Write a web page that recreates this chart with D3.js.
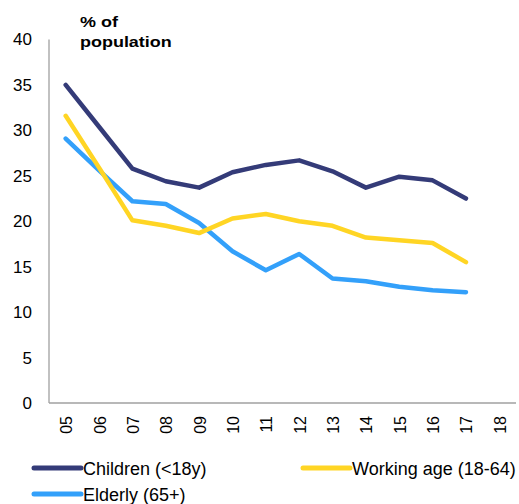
<!DOCTYPE html>
<html>
<head>
<meta charset="utf-8">
<script src="https://cdn.jsdelivr.net/npm/d3@7"></script>
<style>
  html, body { margin: 0; padding: 0; background: #fff; }
  svg { display: block; }
  text { font-family: "Liberation Sans", Arial, sans-serif; fill: #000; }
</style>
</head>
<body>
<script>
const years = ["05","06","07","08","09","10","11","12","13","14","15","16","17","18"];
const children = [35.0, 30.4, 25.8, 24.4, 23.7, 25.4, 26.2, 26.7, 25.5, 23.7, 24.9, 24.5, 22.5];
const workingAge = [31.6, 25.9, 20.1, 19.5, 18.7, 20.3, 20.8, 20.0, 19.5, 18.2, 17.9, 17.6, 15.5];
const elderly = [29.1, 25.6, 22.2, 21.9, 19.8, 16.7, 14.6, 16.4, 13.7, 13.4, 12.8, 12.4, 12.2];
const yTicks = [0, 5, 10, 15, 20, 25, 30, 35, 40];
const seriesNames = ["Children (<18y)", "Working age (18-64)", "Elderly (65+)"];
const seriesColors = ["#343b78", "#ffd524", "#33a0fa"];

const W = 519, H = 504;
const svg = d3.select("body").append("svg").attr("width", W).attr("height", H);

const x = d3.scaleBand().domain(years).range([49, 516]);
const y = d3.scaleLinear().domain([0, 40]).range([403, 39.5]);

// axes lines
const axisColor = "#a0a0a0";
svg.append("line").attr("x1", 49).attr("x2", 49).attr("y1", y(40)).attr("y2", y(0))
  .attr("stroke", axisColor).attr("stroke-width", 1.3);
svg.append("line").attr("x1", 49).attr("x2", 516).attr("y1", y(0)).attr("y2", y(0))
  .attr("stroke", axisColor).attr("stroke-width", 1.3);

// y tick labels
svg.append("g").selectAll("text").data(yTicks).join("text")
  .attr("x", 32).attr("y", d => y(d)).attr("dy", "0.35em")
  .attr("text-anchor", "end").style("font-size", "17px")
  .text(d => d);

// x tick labels rotated
svg.append("g").selectAll("text").data(years).join("text")
  .attr("transform", d => `translate(${x(d) + x.bandwidth()/2 + 6.5},416) rotate(-90)`)
  .attr("text-anchor", "end").style("font-size", "16px")
  .text(d => d);

// title (slightly wide lettering as in the reference)
const title = svg.append("text")
  .attr("transform", "translate(80,0) scale(1.16,1)")
  .style("font-size", "15.5px").style("font-weight", "bold");
title.append("tspan").attr("x", 0).attr("y", 26.7).text("% of");
title.append("tspan").attr("x", 0).attr("y", 47).text("population");

// lines
const data = [children, workingAge, elderly];
const line = d3.line()
  .x((d, i) => x(years[i]) + x.bandwidth()/2)
  .y(d => y(d));
[2, 1, 0].forEach(k => {
  svg.append("path").datum(data[k])
    .attr("d", line)
    .attr("fill", "none")
    .attr("stroke", seriesColors[k])
    .attr("stroke-width", 4.5)
    .attr("stroke-linejoin", "round")
    .attr("stroke-linecap", "round");
});

// legend
const legendItems = [
  {name: seriesNames[0], color: seriesColors[0], lx: 34, ly: 468},
  {name: seriesNames[1], color: seriesColors[1], lx: 303, ly: 468},
  {name: seriesNames[2], color: seriesColors[2], lx: 34, ly: 494}
];
const lg = svg.append("g").selectAll("g").data(legendItems).join("g");
lg.append("line")
  .attr("x1", d => d.lx).attr("x2", d => d.lx + 47)
  .attr("y1", d => d.ly).attr("y2", d => d.ly)
  .attr("stroke", d => d.color).attr("stroke-width", 5).attr("stroke-linecap", "round");
lg.append("text")
  .attr("x", d => d.lx + 49).attr("y", d => d.ly + 7)
  .style("font-size", "18px")
  .text(d => d.name);
</script>
</body>
</html>
